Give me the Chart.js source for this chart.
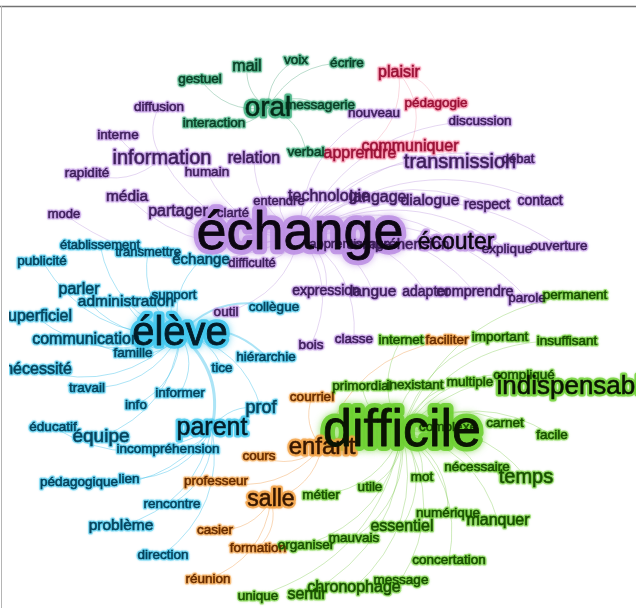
<!DOCTYPE html>
<html>
<head>
<meta charset="utf-8">
<script src="https://cdn.jsdelivr.net/npm/chart.js@4.4.1/dist/chart.umd.min.js"></script>
<style>
  html, body { margin: 0; padding: 0; background: #fff; }
  #wrap { width: 636px; height: 608px; }
</style>
</head>
<body>
<div id="wrap"><canvas id="cloud" width="636" height="608"></canvas></div>
<script>
// one array per community: [word, x, y, weight]
const echangeWords = [
  ["échange", 300, 234, 54],
  ["écouter", 456, 243, 23],
  ["transmission", 460, 162, 20],
  ["information", 162, 158, 20],
  ["relation", 254, 159, 16],
  ["technologie", 329, 197, 16],
  ["langage", 378, 198, 16],
  ["dialogue", 430, 201, 15.5],
  ["média", 127, 197, 15.5],
  ["partager", 178, 212, 16],
  ["langue", 373, 292, 15.5],
  ["comprendre", 475, 292, 14.5],
  ["compréhension", 398, 245, 15],
  ["expression", 326, 291, 14],
  ["adapter", 426, 292, 14],
  ["respect", 487, 205, 14],
  ["contact", 540, 201, 14],
  ["entendre", 279, 201, 13],
  ["clarté", 233, 213, 13],
  ["mode", 64, 214, 13],
  ["apprentissage", 350, 244, 13],
  ["explique", 507, 249, 13.5],
  ["ouverture", 559, 246, 13.5],
  ["débat", 518, 159, 13],
  ["discussion", 480, 121, 13.5],
  ["nouveau", 374, 113, 13.5],
  ["humain", 207, 172, 13.5],
  ["rapidité", 87, 173, 13.5],
  ["interne", 118, 135, 13.5],
  ["diffusion", 159, 107, 13.5],
  ["difficulté", 252, 263, 13],
  ["parole", 527, 298, 13.5],
  ["outil", 226, 312, 13.5],
  ["bois", 311, 345, 13.5],
  ["classe", 354, 339, 13.5]
];

const oralWords = [
  ["oral", 268, 108, 28],
  ["mail", 247, 67, 16],
  ["gestuel", 200, 79, 13.5],
  ["voix", 296, 60, 13.5],
  ["écrire", 347, 63, 13.5],
  ["messagerie", 320, 105, 13.5],
  ["interaction", 214, 123, 13.5],
  ["verbal", 306, 152, 13.5]
];

const plaisirWords = [
  ["plaisir", 399, 73, 16],
  ["communiquer", 410, 147, 16],
  ["apprendre", 360, 154, 16],
  ["pédagogie", 436, 103, 13.5]
];

const eleveWords = [
  ["élève", 180, 334, 40],
  ["parent", 212, 428, 25],
  ["équipe", 101, 437, 19],
  ["prof", 261, 408, 18],
  ["administration", 126, 302, 15.5],
  ["parler", 79, 290, 16],
  ["communication", 86, 340, 16],
  ["superficiel", 36, 317, 16],
  ["nécessité", 38, 370, 16],
  ["problème", 121, 526, 15.5],
  ["échange", 201, 260, 15],
  ["établissement", 100, 245, 13],
  ["transmettre", 148, 252, 13],
  ["publicité", 42, 261, 13.5],
  ["support", 174, 295, 13.5],
  ["collègue", 274, 307, 13.5],
  ["famille", 133, 353, 13.5],
  ["hiérarchie", 266, 357, 13.5],
  ["tice", 222, 368, 13.5],
  ["travail", 87, 388, 13.5],
  ["informer", 180, 393, 13.5],
  ["info", 136, 405, 13.5],
  ["éducatif", 53, 427, 13.5],
  ["incompréhension", 168, 449, 13.5],
  ["pédagogique", 79, 482, 13.5],
  ["lien", 129, 479, 13.5],
  ["rencontre", 172, 504, 13.5],
  ["direction", 163, 555, 13.5]
];

const enfantWords = [
  ["enfant", 322, 447, 24],
  ["salle", 271, 500, 23],
  ["courriel", 312, 397, 13.5],
  ["faciliter", 447, 340, 13.5],
  ["cours", 259, 456, 13.5],
  ["professeur", 216, 481, 13.5],
  ["casier", 215, 530, 13.5],
  ["formation", 258, 548, 13.5],
  ["réunion", 208, 579, 13.5]
];

const difficileWords = [
  ["difficile", 402, 432, 52],
  ["indispensable", 576, 387, 26],
  ["temps", 526, 477, 20],
  ["manquer", 498, 521, 16],
  ["essentiel", 402, 527, 16],
  ["chronophage", 354, 588, 16],
  ["sentir", 307, 595, 16],
  ["permanent", 575, 295, 13.5],
  ["important", 500, 337, 13.5],
  ["insuffisant", 567, 341, 13.5],
  ["internet", 401, 340, 13.5],
  ["primordial", 362, 386, 13.5],
  ["inexistant", 415, 385, 13.5],
  ["multiple", 470, 382, 13.5],
  ["compliqué", 524, 375, 13.5],
  ["complexe", 448, 427, 13.5],
  ["carnet", 505, 423, 13.5],
  ["facile", 552, 435, 13.5],
  ["nécessaire", 477, 467, 13.5],
  ["mot", 422, 477, 13.5],
  ["utile", 370, 487, 13.5],
  ["métier", 321, 495, 13.5],
  ["numérique", 448, 513, 13.5],
  ["mauvais", 354, 538, 13.5],
  ["organiser", 306, 545, 13.5],
  ["concertation", 449, 560, 13.5],
  ["message", 401, 580, 13.5],
  ["unique", 258, 596, 13.5]
];

// links: [hub, targets, width]
const links = [
  ["échange", ["technologie", "langage", "dialogue", "respect", "contact", "écouter", "explique", "ouverture",
    "comprendre", "parole", "langue", "expression", "adapter", "apprentissage", "compréhension", "transmission",
    "information", "relation", "partager", "clarté", "entendre", "média", "mode", "bois", "classe", "outil",
    "difficulté", "débat", "discussion", "nouveau", "humain"], 1],
  ["information", ["rapidité", "interne", "diffusion"], 1],
  ["oral", ["gestuel", "mail", "voix", "écrire", "messagerie", "interaction", "verbal"], 1],
  ["plaisir", ["pédagogie", "apprendre", "communiquer"], 1],
  ["élève", ["établissement", "transmettre", "publicité", "échange", "parler", "administration", "support",
    "superficiel", "communication", "famille", "nécessité", "tice", "travail", "informer", "info", "équipe", "prof"], 1],
  ["élève", ["parent"], 3],
  ["élève", ["collègue", "hiérarchie"], 2],
  ["parent", ["incompréhension", "rencontre", "lien", "problème", "direction", "pédagogique", "éducatif", "prof"], 1],
  ["difficile", ["permanent", "important", "insuffisant", "primordial", "inexistant", "multiple", "compliqué",
    "indispensable", "complexe", "carnet", "facile", "nécessaire", "temps", "mot", "utile", "métier", "numérique",
    "manquer", "essentiel", "mauvais", "organiser", "concertation", "message", "chronophage", "sentir", "unique",
    "internet"], 1],
  ["enfant", ["courriel", "cours", "salle", "faciliter", "professeur"], 1],
  ["salle", ["casier", "formation", "réunion"], 1]
];

const communities = [
  { label: "échange", words: echangeWords, text: "#3d1e5a", strong: "#0d0712", glow: "rgba(190,145,228,", edge: "rgba(175,135,215,0.33)" },
  { label: "oral", words: oralWords, text: "#0a3f26", strong: "#052a18", glow: "rgba(60,175,125,", edge: "rgba(70,160,120,0.36)" },
  { label: "plaisir", words: plaisirWords, text: "#9a1236", strong: "#7a0f2a", glow: "rgba(245,130,160,", edge: "rgba(240,150,170,0.36)" },
  { label: "élève", words: eleveWords, text: "#07435c", strong: "#031c28", glow: "rgba(65,200,238,", edge: "rgba(70,195,235,0.45)" },
  { label: "enfant", words: enfantWords, text: "#682d00", strong: "#361700", glow: "rgba(243,160,65,", edge: "rgba(240,160,80,0.42)" },
  { label: "difficile", words: difficileWords, text: "#184f00", strong: "#0a1403", glow: "rgba(110,208,50,", edge: "rgba(120,200,70,0.36)" }
];

const FONT = '"Liberation Sans", Arial, sans-serif';

function findNode(chart, word, preferGroup) {
  let found = null;
  chart.data.datasets.forEach((ds, di) => {
    const meta = chart.getDatasetMeta(di);
    ds.data.forEach((d, i) => {
      if (d.word === word && (!found || di === preferGroup)) {
        found = { el: meta.data[i], group: di, raw: d };
      }
    });
  });
  return found;
}

const cloudPlugin = {
  id: "cloud",
  beforeDatasetsDraw(chart) {
    const ctx = chart.ctx;
    ctx.save();
    Chart.helpers.clipArea(ctx, chart.chartArea);
    links.forEach(([hub, targets, width]) => {
      const h = findNode(chart, hub, -1);
      targets.forEach(t => {
        const n = findNode(chart, t, h.group);
        if (!n) return;
        const x1 = h.el.x, y1 = h.el.y, x2 = n.el.x, y2 = n.el.y;
        const mx = (x1 + x2) / 2, my = (y1 + y2) / 2;
        const dx = x2 - x1, dy = y2 - y1;
        ctx.beginPath();
        ctx.moveTo(x1, y1);
        ctx.quadraticCurveTo(mx + dy * 0.3, my - dx * 0.3, x2, y2);
        ctx.strokeStyle = communities[h.group].edge;
        ctx.lineWidth = width;
        ctx.stroke();
      });
    });
    ctx.restore();
  },
  afterDatasetsDraw(chart) {
    const ctx = chart.ctx;
    const items = [];
    chart.data.datasets.forEach((ds, di) => {
      const meta = chart.getDatasetMeta(di);
      ds.data.forEach((d, i) => items.push({ el: meta.data[i], d, style: communities[di] }));
    });
    ctx.save();
    Chart.helpers.clipArea(ctx, chart.chartArea);
    ctx.textAlign = "center";
    ctx.textBaseline = "middle";
    ctx.lineJoin = "round";
    // halos first, biggest at the bottom
    items.slice().sort((a, b) => b.d.weight - a.d.weight).forEach(it => {
      const w = it.d.weight;
      const big = w >= 30, mid = w >= 22;
      ctx.font = w + "px " + FONT;
      ctx.strokeStyle = it.style.glow + (big ? "0.9)" : mid ? "0.75)" : "0.55)");
      ctx.shadowColor = it.style.glow + "0.8)";
      ctx.shadowBlur = big ? 7 : 2;
      ctx.lineWidth = big ? w * 0.19 : mid ? 5 : 3.2;
      ctx.strokeText(it.d.word, it.el.x, it.el.y);
    });
    ctx.shadowBlur = 0;
    items.slice().sort((a, b) => a.d.weight - b.d.weight).forEach(it => {
      const w = it.d.weight;
      const col = w >= 22 ? it.style.strong : it.style.text;
      ctx.font = w + "px " + FONT;
      ctx.fillStyle = col;
      ctx.fillText(it.d.word, it.el.x, it.el.y);
      ctx.strokeStyle = col;
      ctx.lineWidth = w >= 30 ? 0.8 : 0.55;
      ctx.strokeText(it.d.word, it.el.x, it.el.y);
    });
    ctx.restore();
  },
  afterDraw(chart) {
    const ctx = chart.ctx;
    ctx.save();
    ctx.strokeStyle = "#737373";
    ctx.lineWidth = 1.5;
    ctx.beginPath();
    ctx.moveTo(0, 6.5);
    ctx.lineTo(636, 6.5);
    ctx.stroke();
    ctx.strokeStyle = "#b5b5b5";
    ctx.lineWidth = 1;
    ctx.beginPath();
    ctx.moveTo(1.5, 6);
    ctx.lineTo(1.5, 608);
    ctx.stroke();
    ctx.restore();
  }
};

new Chart(document.getElementById("cloud").getContext("2d"), {
  type: "scatter",
  data: {
    datasets: communities.map(c => ({
      label: c.label,
      data: c.words.map(w => ({ x: w[1], y: w[2], word: w[0], weight: w[3] })),
      pointRadius: 0,
      showLine: false
    }))
  },
  options: {
    responsive: false,
    animation: false,
    layout: { padding: { left: 9, top: 0, right: 0, bottom: 0 } },
    scales: {
      x: { type: "linear", min: 9, max: 636, display: false },
      y: { type: "linear", min: 0, max: 608, reverse: true, display: false }
    },
    plugins: { legend: { display: false }, tooltip: { enabled: false } }
  },
  plugins: [cloudPlugin]
});
</script>
</body>
</html>
